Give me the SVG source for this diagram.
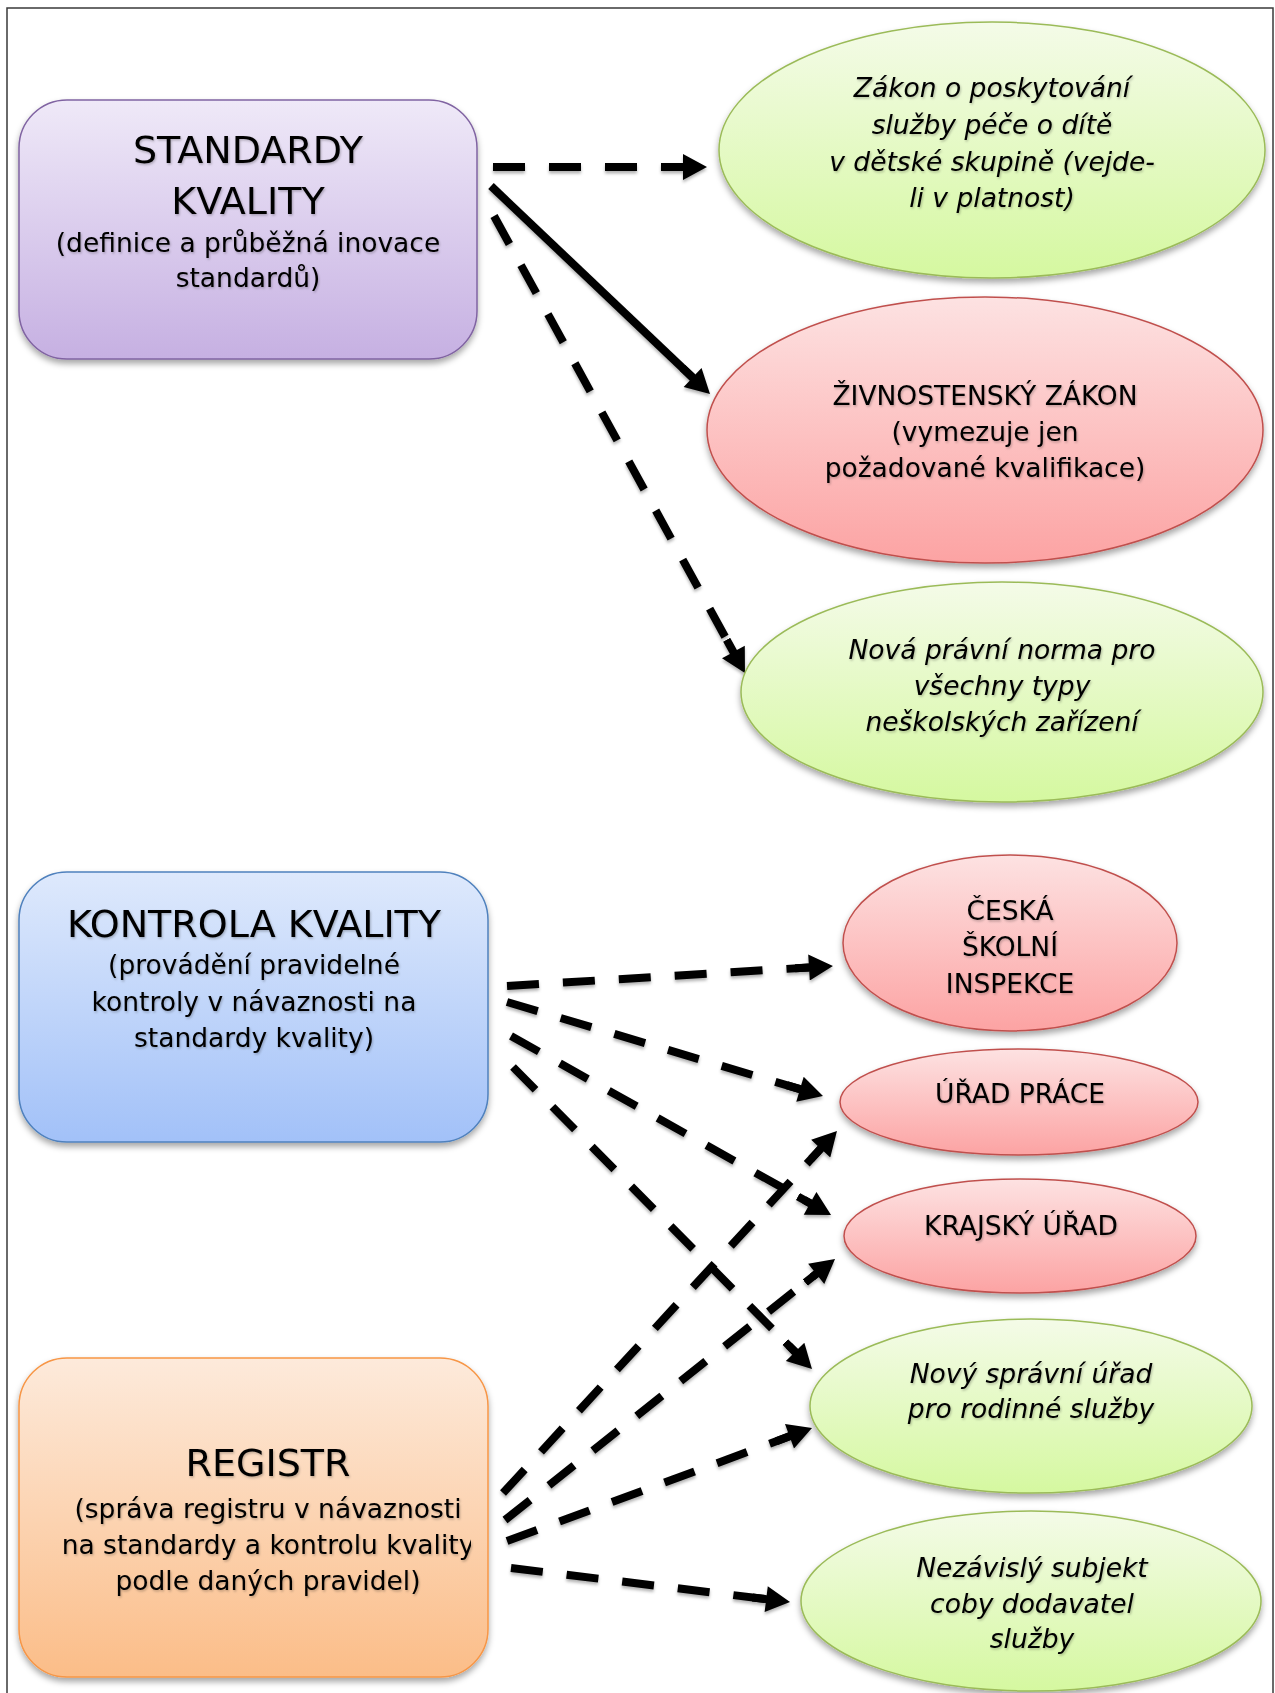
<svg xmlns="http://www.w3.org/2000/svg" width="1275" height="1693" viewBox="0 0 1275 1693">
<style>
  .t { font-family: "DejaVu Sans", Verdana, sans-serif; fill: #000; text-anchor: middle; }
  .title { font-size: 38px; }
  .body { font-size: 26.5px; }
  .it { font-style: italic; }
  .conn { fill: none; stroke: #000; stroke-width: 8; }
  .dash { stroke-dasharray: 32 24; }
  .node { filter: url(#shadow); }
  .txt { filter: url(#tshadow); }
  #connectors { filter: url(#lshadow); }
</style>
<defs>
  <filter id="shadow" x="-10%" y="-10%" width="120%" height="130%">
    <feDropShadow dx="0" dy="4" stdDeviation="3" flood-color="#000" flood-opacity="0.35"/>
  </filter>
  <filter id="tshadow" x="-5%" y="-20%" width="110%" height="140%">
    <feDropShadow dx="1" dy="1.5" stdDeviation="1" flood-color="#000" flood-opacity="0.25"/>
  </filter>
  <filter id="lshadow" filterUnits="userSpaceOnUse" x="0" y="0" width="1275" height="1693">
    <feDropShadow dx="0" dy="2.5" stdDeviation="1.5" flood-color="#000" flood-opacity="0.3"/>
  </filter>
  <linearGradient id="gPurple" x1="0" y1="0" x2="0" y2="1">
    <stop offset="0" stop-color="#efe9f8"/>
    <stop offset="1" stop-color="#c6b0e2"/>
  </linearGradient>
  <linearGradient id="gBlue" x1="0" y1="0" x2="0" y2="1">
    <stop offset="0" stop-color="#dee9fc"/>
    <stop offset="1" stop-color="#a2c1f8"/>
  </linearGradient>
  <linearGradient id="gOrange" x1="0" y1="0" x2="0" y2="1">
    <stop offset="0" stop-color="#fdeadb"/>
    <stop offset="1" stop-color="#fbbd88"/>
  </linearGradient>
  <linearGradient id="gGreen" x1="0" y1="0" x2="0" y2="1">
    <stop offset="0" stop-color="#f4fbe8"/>
    <stop offset="1" stop-color="#d5f8a0"/>
  </linearGradient>
  <linearGradient id="gRed" x1="0" y1="0" x2="0" y2="1">
    <stop offset="0" stop-color="#fde2e2"/>
    <stop offset="1" stop-color="#fca3a3"/>
  </linearGradient>
  <marker id="arrow" markerUnits="userSpaceOnUse" viewBox="0 0 38 26" markerWidth="38" markerHeight="26" refX="14" refY="13" orient="auto">
    <path d="M0,9 L14,9 L14,0 L38,13 L14,26 L14,17 L0,17 Z" fill="#000"/>
  </marker>
  <clipPath id="clipReg">
    <rect x="19" y="1358" width="452" height="320"/>
  </clipPath>
</defs>

<rect x="0" y="0" width="1275" height="1693" fill="#fff"/>
<rect x="7" y="8" width="1266" height="1700" fill="none" stroke="#3a3a3a" stroke-width="1.5"/>

<g id="connectors">
  <path class="conn dash" d="M493,167 L683,167" marker-end="url(#arrow)"/>
  <path class="conn" d="M491,186 L692.6,377.5" marker-end="url(#arrow)"/>
  <path class="conn dash" d="M494,216 L733.4,652" marker-end="url(#arrow)"/>
  <path class="conn dash" d="M507,986 L809,967.5" marker-end="url(#arrow)"/>
  <path class="conn dash" d="M507,1002 L800,1089.2" marker-end="url(#arrow)"/>
  <path class="conn dash" d="M511,1036 L810.1,1203.3" marker-end="url(#arrow)"/>
  <path class="conn dash" d="M513,1067 L795.1,1351.9" marker-end="url(#arrow)"/>
  <path class="conn dash" d="M503,1493 L820.7,1148.6" marker-end="url(#arrow)"/>
  <path class="conn dash" d="M505,1520 L816.2,1273.9" marker-end="url(#arrow)"/>
  <path class="conn dash" d="M507,1541 L789.5,1436.3" marker-end="url(#arrow)"/>
  <path class="conn dash" d="M511,1568 L766.2,1599.1" marker-end="url(#arrow)"/>
</g>

<g id="standardy">
  <rect class="node" x="19" y="100" width="458" height="259" rx="48" ry="48" fill="url(#gPurple)" stroke="#8064a2" stroke-width="1.5"/>
  <g class="txt">
    <text class="t title" x="248" y="163">STANDARDY</text>
    <text class="t title" x="248" y="214">KVALITY</text>
    <text class="t body" x="248" y="252">(definice a průběžná inovace</text>
    <text class="t body" x="248" y="287">standardů)</text>
  </g>
</g>

<g id="zakon-detska-skupina">
  <ellipse class="node" cx="992" cy="150" rx="273" ry="128" fill="url(#gGreen)" stroke="#9bbb59" stroke-width="1.5"/>
  <g class="txt">
    <text class="t body it" x="992" y="97">Zákon o poskytování</text>
    <text class="t body it" x="992" y="134">služby péče o dítě</text>
    <text class="t body it" x="992" y="171">v dětské skupině (vejde-</text>
    <text class="t body it" x="992" y="207">li v platnost)</text>
  </g>
</g>

<g id="zivnostensky-zakon">
  <ellipse class="node" cx="985" cy="430" rx="278" ry="133" fill="url(#gRed)" stroke="#c0504d" stroke-width="1.5"/>
  <g class="txt">
    <text class="t body" x="985" y="405">ŽIVNOSTENSKÝ ZÁKON</text>
    <text class="t body" x="985" y="441">(vymezuje jen</text>
    <text class="t body" x="985" y="477">požadované kvalifikace)</text>
  </g>
</g>

<g id="nova-pravni-norma">
  <ellipse class="node" cx="1002" cy="692" rx="261" ry="110" fill="url(#gGreen)" stroke="#9bbb59" stroke-width="1.5"/>
  <g class="txt">
    <text class="t body it" x="1002" y="659">Nová právní norma pro</text>
    <text class="t body it" x="1002" y="695">všechny typy</text>
    <text class="t body it" x="1002" y="731">neškolských zařízení</text>
  </g>
</g>

<g id="kontrola">
  <rect class="node" x="19" y="872" width="469" height="270" rx="48" ry="48" fill="url(#gBlue)" stroke="#4f81bd" stroke-width="1.5"/>
  <g class="txt">
    <text class="t title" x="254" y="937">KONTROLA KVALITY</text>
    <text class="t body" x="254" y="974">(provádění pravidelné</text>
    <text class="t body" x="254" y="1011">kontroly v návaznosti na</text>
    <text class="t body" x="254" y="1047">standardy kvality)</text>
  </g>
</g>

<g id="ceska-skolni-inspekce">
  <ellipse class="node" cx="1010" cy="943" rx="167" ry="88" fill="url(#gRed)" stroke="#c0504d" stroke-width="1.5"/>
  <g class="txt">
    <text class="t body" x="1010" y="920">ČESKÁ</text>
    <text class="t body" x="1010" y="956">ŠKOLNÍ</text>
    <text class="t body" x="1010" y="993">INSPEKCE</text>
  </g>
</g>

<g id="urad-prace">
  <ellipse class="node" cx="1019" cy="1102" rx="179" ry="53" fill="url(#gRed)" stroke="#c0504d" stroke-width="1.5"/>
  <text class="t body txt" x="1020" y="1103">ÚŘAD PRÁCE</text>
</g>

<g id="krajsky-urad">
  <ellipse class="node" cx="1020" cy="1236" rx="176" ry="57" fill="url(#gRed)" stroke="#c0504d" stroke-width="1.5"/>
  <text class="t body txt" x="1021" y="1235">KRAJSKÝ ÚŘAD</text>
</g>

<g id="novy-spravni-urad">
  <ellipse class="node" cx="1031" cy="1406" rx="221" ry="87" fill="url(#gGreen)" stroke="#9bbb59" stroke-width="1.5"/>
  <g class="txt">
    <text class="t body it" x="1031" y="1383">Nový správní úřad</text>
    <text class="t body it" x="1031" y="1418">pro rodinné služby</text>
  </g>
</g>

<g id="registr">
  <rect class="node" x="19" y="1358" width="469" height="319" rx="48" ry="48" fill="url(#gOrange)" stroke="#f79646" stroke-width="1.5"/>
  <g class="txt">
    <text class="t title" x="268" y="1476">REGISTR</text>
    <text class="t body" x="268" y="1518">(správa registru v návaznosti</text>
    <text class="t body" x="268" y="1554" clip-path="url(#clipReg)">na standardy a kontrolu kvality</text>
    <text class="t body" x="268" y="1590">podle daných pravidel)</text>
  </g>
</g>

<g id="nezavisly-subjekt">
  <ellipse class="node" cx="1031" cy="1601" rx="230" ry="90" fill="url(#gGreen)" stroke="#9bbb59" stroke-width="1.5"/>
  <g class="txt">
    <text class="t body it" x="1032" y="1577">Nezávislý subjekt</text>
    <text class="t body it" x="1032" y="1613">coby dodavatel</text>
    <text class="t body it" x="1032" y="1648">služby</text>
  </g>
</g>
</svg>
